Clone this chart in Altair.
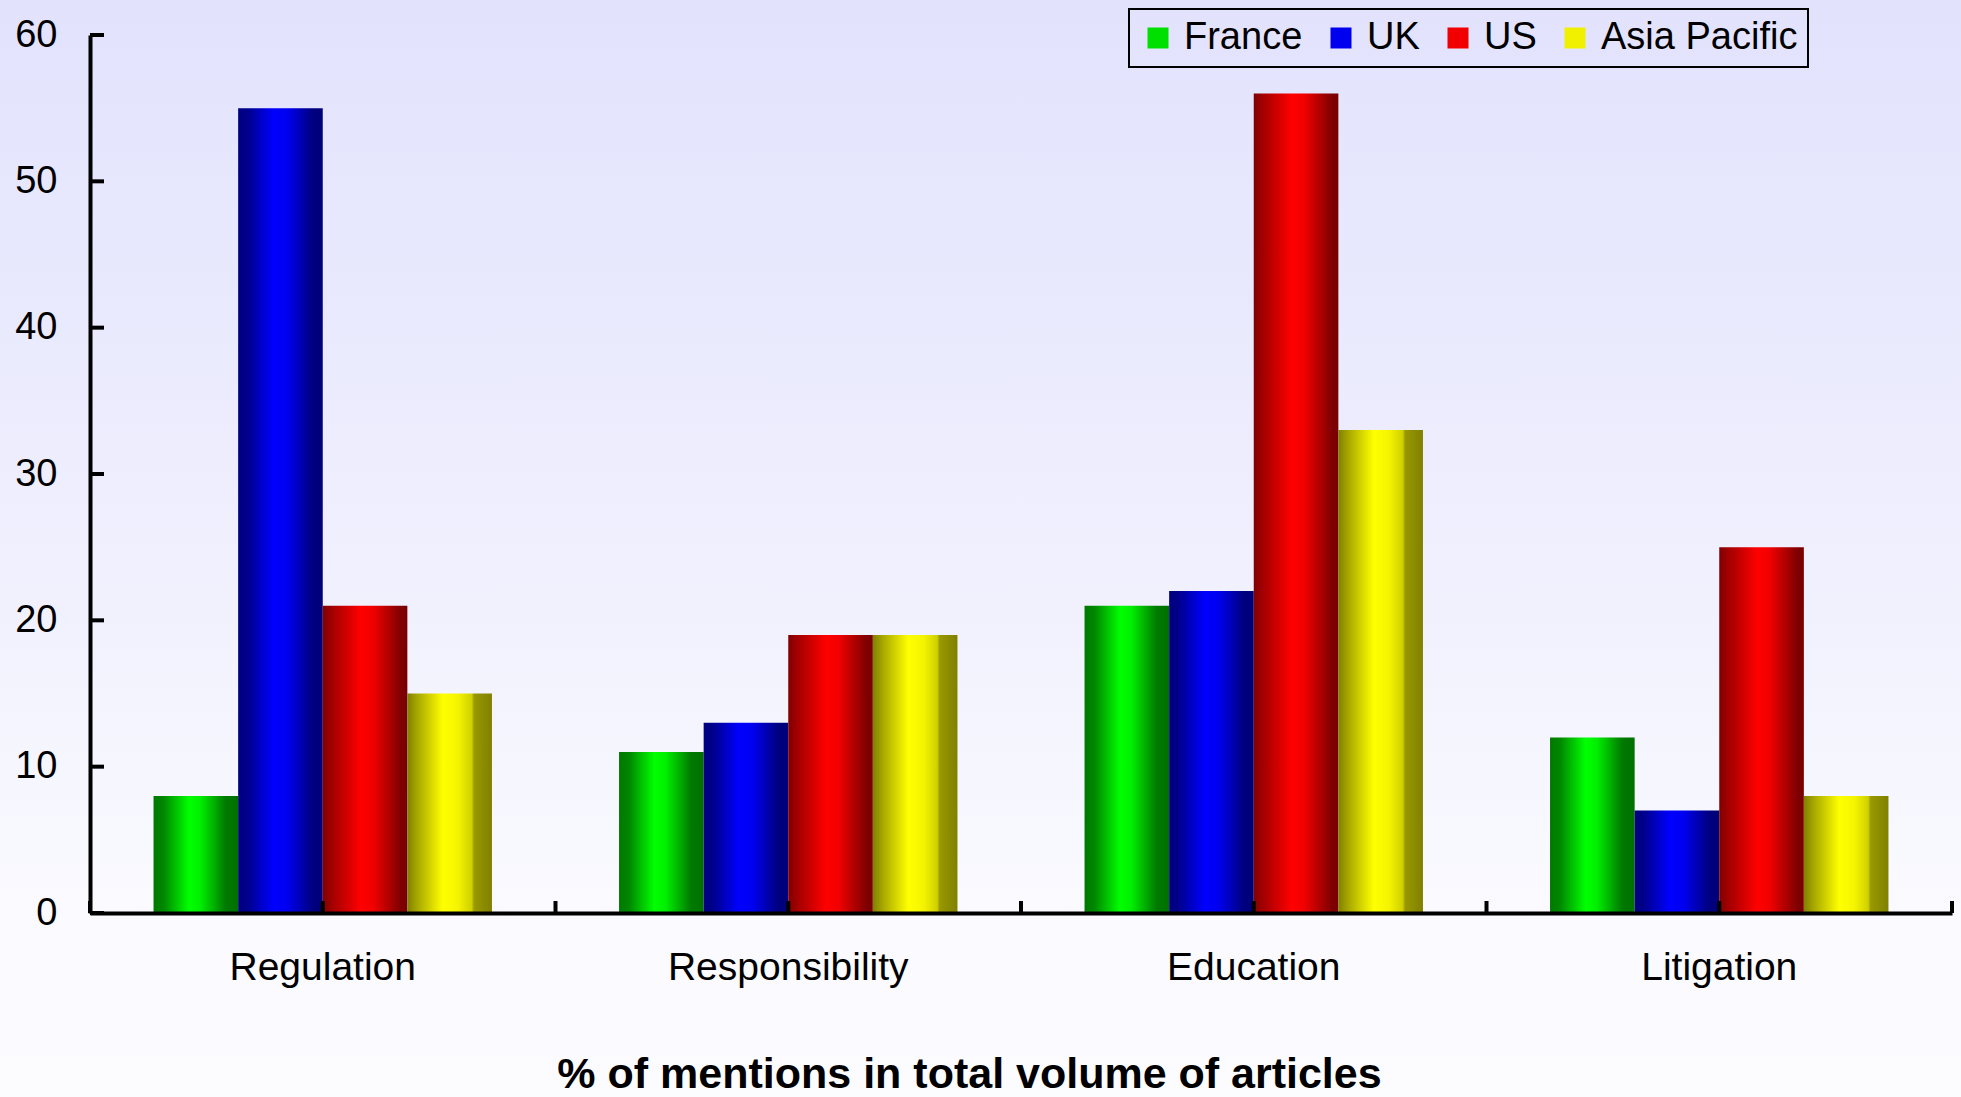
import altair as alt
import pandas as pd

categories = ["Regulation", "Responsibility", "Education", "Litigation"]
series_names = ["France", "UK", "US", "Asia Pacific"]
france = [8, 11, 21, 12]
uk = [55, 13, 22, 7]
us = [21, 19, 56, 25]
asia_pacific = [15, 19, 33, 8]
y_tick_values = [0, 10, 20, 30, 40, 50, 60]
x_tick_positions = [0, 0.5, 1, 1.5, 2, 2.5, 3, 3.5, 4]
legend_colors = ["#00E000", "#0000F0", "#F00000", "#F0F000"]

series_values = {"France": france, "UK": uk, "US": us, "Asia Pacific": asia_pacific}
df = pd.DataFrame(
    [{"category": c, "series": s, "value": series_values[s][i]}
     for s in series_names for i, c in enumerate(categories)]
)

W, H = 1862, 878
FONT = "Liberation Sans"


def hgrad(stops):
    return alt.LinearGradient(
        gradient="linear",
        stops=[alt.GradientStop(color=c, offset=o) for o, c in stops],
        x1=0, x2=1, y1=0, y2=0,
    )


bar_gradients = {
    "France": hgrad([(0, "#007800"), (0.12, "#008800"), (0.42, "#00FF00"), (0.55, "#00F000"), (0.85, "#007A00"), (1, "#007000")]),
    "UK": hgrad([(0, "#000080"), (0.1, "#000088"), (0.42, "#0000FF"), (0.58, "#0000F0"), (0.88, "#000080"), (1, "#000078")]),
    "US": hgrad([(0, "#800000"), (0.1, "#A00000"), (0.45, "#FF0000"), (0.6, "#F00000"), (0.92, "#800000"), (1, "#780000")]),
    "Asia Pacific": hgrad([(0, "#808000"), (0.12, "#A8A800"), (0.42, "#FFFF00"), (0.6, "#F4F400"), (0.76, "#D0D000"), (0.79, "#989800"), (1, "#808000")]),
}

bg_gradient = alt.LinearGradient(
    gradient="linear",
    stops=[alt.GradientStop(color="#E2E2FD", offset=0),
           alt.GradientStop(color="#EEEEFE", offset=0.45),
           alt.GradientStop(color="#F9F9FF", offset=0.8),
           alt.GradientStop(color="#FCFCFF", offset=1)],
    x1=0, x2=0, y1=0, y2=1,
)

x_enc = alt.X(
    "category:N",
    sort=categories,
    scale=alt.Scale(paddingInner=0.273, paddingOuter=0.1365),
    axis=alt.Axis(
        title="% of mentions in total volume of articles",
        titleFont=FONT, titleFontSize=43, titleFontWeight="bold", titleColor="black",
        titleX=879, titleY=174, titleBaseline="alphabetic", titleAlign="center",
        titleLimit=0,
        labelFont=FONT, labelFontSize=39, labelColor="black", labelAngle=0,
        labelPadding=35, labelLimit=0, ticks=False, tickSize=0,
        domainColor="black", domainWidth=4, grid=False, zindex=1,
    ),
)
xoff_enc = alt.XOffset(
    "series:N", sort=series_names,
    scale=alt.Scale(domain=series_names, paddingInner=0, paddingOuter=0),
)
y_enc = alt.Y(
    "value:Q",
    scale=alt.Scale(domain=[0, 60], nice=False, zero=True),
    axis=alt.Axis(
        title=None, values=y_tick_values,
        labelFont=FONT, labelFontSize=38, labelColor="black",
        labelPadding=33, ticks=False, tickSize=0,
        domainColor="black", domainWidth=4, grid=False, zindex=1,
    ),
)

base = alt.Chart(df)

bar_layers = [
    base.transform_filter(alt.datum.series == s)
    .mark_bar(color=bar_gradients[s])
    .encode(x=x_enc, xOffset=xoff_enc, y=y_enc)
    for s in series_names
]

legend_layer = base.mark_bar(opacity=0).encode(
    x=x_enc, xOffset=xoff_enc, y=y_enc,
    color=alt.Color(
        "series:N",
        scale=alt.Scale(domain=series_names, range=legend_colors),
        legend=alt.Legend(
            title=None, orient="none", legendX=1039, legendY=-26,
            direction="horizontal", strokeColor="black", padding=10,
            labelFont=FONT, labelFontSize=38, labelColor="black", labelLimit=0,
            symbolType="square", symbolSize=441,
            symbolOpacity=1, symbolStrokeWidth=0, labelOffset=7,
            columnPadding=19, zindex=1,
        ),
    ),
)

ytick_layer = alt.Chart(pd.DataFrame({"value": y_tick_values})).mark_rule(
    color="black", strokeWidth=4
).encode(y=y_enc, x=alt.value(0), x2=alt.value(14))

inner = alt.layer(*bar_layers, legend_layer, ytick_layer)

xtick_layer = alt.Chart(pd.DataFrame({"pos": x_tick_positions})).mark_rule(
    color="black", strokeWidth=4
).encode(
    x=alt.X("pos:Q", scale=alt.Scale(domain=[0, 4], nice=False, zero=False), axis=None),
    y=alt.value(H), y2=alt.value(H - 12),
)

bg = alt.Chart(pd.DataFrame({"a": [0]})).mark_rect(color=bg_gradient).encode(
    x=alt.value(-90), x2=alt.value(W + 9), y=alt.value(-35), y2=alt.value(H + 184)
)

chart = (
    alt.layer(bg, inner, xtick_layer)
    .resolve_scale(x="independent")
    .properties(
        width=W, height=H,
        autosize=alt.AutoSizeParams(type="none"),
        padding={"left": 90, "top": 35, "right": 9, "bottom": 184},
        background="#F6F6FE",
    )
    .configure_view(strokeWidth=0)
    .configure_legend(strokeWidth=2)
)

chart.save("out.html", embed_options={"renderer": "svg", "actions": False})
